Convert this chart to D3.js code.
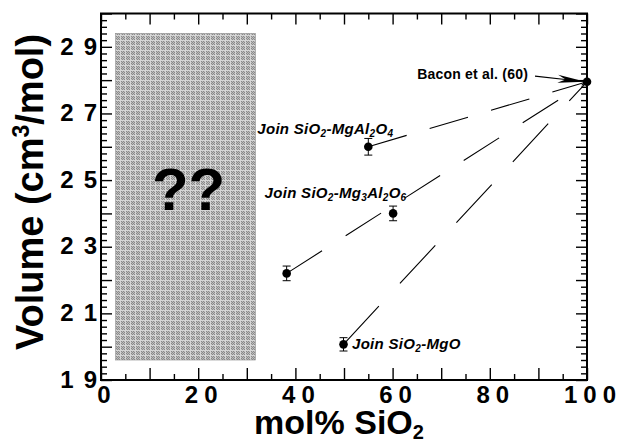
<!DOCTYPE html>
<html>
<head>
<meta charset="utf-8">
<script src="https://cdn.jsdelivr.net/npm/d3@7"></script>
<style>
  html, body { margin: 0; padding: 0; background: #fff; }
  svg { display: block; }
  text { font-family: "Liberation Sans", Arial, Helvetica, sans-serif; }
</style>
</head>
<body>
<svg id="chart" width="621" height="440"></svg>
<script>
// ---------------- data ----------------
const pointNames = ["SiO2-MgAl2O4", "SiO2-Mg3Al2O6 (low)", "SiO2-Mg3Al2O6", "SiO2-MgO"];
const molSiO2    = [55.0, 38.2, 60.1, 49.9];
const volume     = [26.0, 22.2, 24.0, 20.07];
const volumeErr  = [0.25, 0.22, 0.22, 0.20];

const refName   = ["Bacon et al. (60)"];
const refMol    = [100];
const refVolume = [27.95];

// dashed joins: index of starting point, each running to the reference point
const joinStart = [0, 1, 3];

// unknown region (gray box with "??")
const unknownMol = [3.0, 31.8];
const unknownVol = [19.6, 29.4];

const xTickLabels = [0, 20, 40, 60, 80, 100];
const yTickLabels = [19, 21, 23, 25, 27, 29];

// label pieces: [text, isSubscript]
const joinLabels = [
  [["Join SiO", 0], ["2", 1], ["-MgAl", 0], ["2", 1], ["O", 0], ["4", 1]],
  [["Join SiO", 0], ["2", 1], ["-Mg", 0], ["3", 1], ["Al", 0], ["2", 1], ["O", 0], ["6", 1]],
  [["Join SiO", 0], ["2", 1], ["-MgO", 0]]
];
const joinLabelPoint = [0, 2, 3];

// ---------------- layout / style ----------------
const W = 621, H = 440;
const L = 101, R = 587, T = 13.5, B = 380;
const joinDash = ["40,24", "42,28", "52,31"];
const labelOffsets = [[-111, -12.5], [-128.5, -15.5], [8.5, 5]];

const svg = d3.select("#chart");
const x = d3.scaleLinear().domain([0, 100]).range([L, R]);
const y = d3.scaleLinear().domain([19, 30]).range([B, T]);

// pattern for gray region
const defs = svg.append("defs");
const pat = defs.append("pattern").attr("id", "stip")
  .attr("patternUnits", "userSpaceOnUse").attr("width", 5).attr("height", 5);
pat.append("rect").attr("width", 5).attr("height", 5).attr("fill", "#d6d6d6");
for (let i = 1; i < 5; i++) for (let j = 1; j < 5; j++) {
  pat.append("rect").attr("x", i).attr("y", j).attr("width", 1).attr("height", 1)
    .attr("fill", (i + j) % 2 === 0 ? "#8a8a8a" : "#bebebe");
}

// gray box
svg.append("rect")
  .attr("x", x(unknownMol[0])).attr("y", y(unknownVol[1]))
  .attr("width", x(unknownMol[1]) - x(unknownMol[0]))
  .attr("height", y(unknownVol[0]) - y(unknownVol[1]))
  .attr("fill", "url(#stip)").attr("stroke", "#888").attr("stroke-width", 0.6);

svg.append("text")
  .attr("x", (x(unknownMol[0]) + x(unknownMol[1])) / 2 + 3)
  .attr("y", 210)
  .attr("text-anchor", "middle")
  .attr("font-weight", "bold").attr("font-size", 60)
  .text("??");

// axes with inward ticks
const xMajor = d3.range(0, 101, 10), xMinor = d3.range(5, 100, 10);
const yMajor = d3.range(19, 30.01, 1), yMinor = d3.range(19, 30.01, 0.2).filter(v => Math.abs(v - Math.round(v)) > 0.01);

function tickGroup(axisFn, scale, vals, size, tx, ty) {
  const g = svg.append("g").attr("transform", `translate(${tx},${ty})`)
    .call(axisFn(scale).tickValues(vals).tickSize(size).tickFormat(""));
  g.select(".domain").remove();
  g.selectAll("line").attr("stroke", "#000").attr("stroke-width", 1.4);
  return g;
}
tickGroup(d3.axisBottom, x, xMajor, -12, 0, B);
tickGroup(d3.axisBottom, x, xMinor, -6, 0, B);
tickGroup(d3.axisTop, x, xMajor, -11, 0, T);
tickGroup(d3.axisTop, x, xMinor, -6, 0, T);
tickGroup(d3.axisLeft, y, yMajor, -11, L, 0);
tickGroup(d3.axisLeft, y, yMinor, -6, L, 0);
tickGroup(d3.axisRight, y, yMajor, -11, R, 0);
tickGroup(d3.axisRight, y, yMinor, -6, R, 0);

// frame
svg.append("rect").attr("x", L).attr("y", T).attr("width", R - L).attr("height", B - T)
  .attr("fill", "none").attr("stroke", "#000").attr("stroke-width", 2);

// spaced digits: each digit after the first is pushed right by `gap`
function spaceDigits(sel, gap) {
  sel.each(function () {
    const t = d3.select(this);
    const s = t.text();
    t.text(null);
    [...s].forEach((c, i) => {
      const ts = t.append("tspan").text(c);
      if (i > 0) ts.attr("dx", gap);
    });
  });
}

// tick labels
const xLab = svg.append("g").attr("transform", `translate(0,${B})`)
  .call(d3.axisBottom(x).tickValues(xTickLabels).tickSize(0).tickPadding(6).tickFormat(d3.format("d")));
xLab.select(".domain").remove();
xLab.selectAll("text")
  .attr("font-family", "'Liberation Sans', Arial, sans-serif")
  .attr("font-size", 24).attr("font-weight", "bold").attr("fill", "#000")
  .attr("dx", 2.5);
spaceDigits(xLab.selectAll("text"), 6);

const yLab = svg.append("g").attr("transform", `translate(${L},0)`)
  .call(d3.axisLeft(y).tickValues(yTickLabels).tickSize(0).tickPadding(4).tickFormat(d3.format("d")));
yLab.select(".domain").remove();
yLab.selectAll("text")
  .attr("font-family", "'Liberation Sans', Arial, sans-serif")
  .attr("font-size", 24).attr("font-weight", "bold").attr("fill", "#000")
  .attr("dy", "0.3em");
spaceDigits(yLab.selectAll("text"), 10);

// axis titles
const xt = svg.append("text").attr("x", 339).attr("y", 434).attr("text-anchor", "middle")
  .attr("font-weight", "bold").attr("font-size", 34);
xt.append("tspan").text("mol% SiO");
xt.append("tspan").attr("font-size", 20).attr("dy", 5).text("2");

const yt = svg.append("text").attr("transform", "translate(43,192) rotate(-90)")
  .attr("text-anchor", "middle").attr("font-weight", "bold").attr("font-size", 38);
yt.append("tspan").text("Volume (cm");
yt.append("tspan").attr("font-size", 23).attr("dy", -14).text("3");
yt.append("tspan").attr("dy", 14).text("/mol)");

// dashed joins to reference point
joinStart.forEach((si, k) => {
  svg.append("line")
    .attr("x1", x(molSiO2[si])).attr("y1", y(volume[si]))
    .attr("x2", x(refMol[0])).attr("y2", y(refVolume[0]))
    .attr("stroke", "#000").attr("stroke-width", 1.1)
    .attr("stroke-dasharray", joinDash[k]);
});

// error bars
const eb = svg.append("g").attr("stroke", "#000").attr("stroke-width", 1);
molSiO2.forEach((m, i) => {
  const cx = x(m), y0 = y(volume[i] - volumeErr[i]), y1 = y(volume[i] + volumeErr[i]);
  eb.append("line").attr("x1", cx).attr("x2", cx).attr("y1", y0).attr("y2", y1);
  eb.append("line").attr("x1", cx - 4).attr("x2", cx + 4).attr("y1", y0).attr("y2", y0);
  eb.append("line").attr("x1", cx - 4).attr("x2", cx + 4).attr("y1", y1).attr("y2", y1);
});

// points
svg.append("g").selectAll("circle").data(molSiO2).join("circle")
  .attr("cx", d => x(d)).attr("cy", (d, i) => y(volume[i])).attr("r", 4.3).attr("fill", "#000");
svg.append("circle").attr("cx", x(refMol[0])).attr("cy", y(refVolume[0])).attr("r", 4.3).attr("fill", "#000");

// join labels
joinLabels.forEach((parts, k) => {
  const pi = joinLabelPoint[k];
  const t = svg.append("text")
    .attr("x", x(molSiO2[pi]) + labelOffsets[k][0])
    .attr("y", y(volume[pi]) + labelOffsets[k][1])
    .attr("font-weight", "bold").attr("font-style", "italic").attr("font-size", 15)
    .attr("letter-spacing", 0.3);
  let sub = false;
  parts.forEach(([s, isSub]) => {
    const ts = t.append("tspan").text(s);
    if (isSub && !sub) { ts.attr("font-size", 10).attr("dy", 3); sub = true; }
    else if (!isSub && sub) { ts.attr("dy", -3); sub = false; }
    else if (isSub) ts.attr("font-size", 10);
  });
});

// reference label + arrow
const bx = x(refMol[0]), by = y(refVolume[0]);
svg.append("text").attr("x", bx - 59).attr("y", by - 2.5).attr("text-anchor", "end")
  .attr("font-weight", "bold").attr("font-size", 14).attr("letter-spacing", 0.2)
  .text(refName[0]);
const sx = bx - 52, sy = by - 5.7, ex = bx - 1.5, ey = by;
svg.append("line").attr("x1", sx).attr("y1", sy).attr("x2", ex - 18).attr("y2", ey - 2)
  .attr("stroke", "#000").attr("stroke-width", 1.1);
const ang = Math.atan2(ey - sy, ex - sx);
const pt = (a, b) => [ex + a * Math.cos(ang) - b * Math.sin(ang), ey + a * Math.sin(ang) + b * Math.cos(ang)];
const head = [pt(0, 0), pt(-28, -4), pt(-20, 0), pt(-28, 4)];
svg.append("path").attr("d", "M" + head.map(p => p.join(",")).join("L") + "Z").attr("fill", "#000");
</script>
</body>
</html>
